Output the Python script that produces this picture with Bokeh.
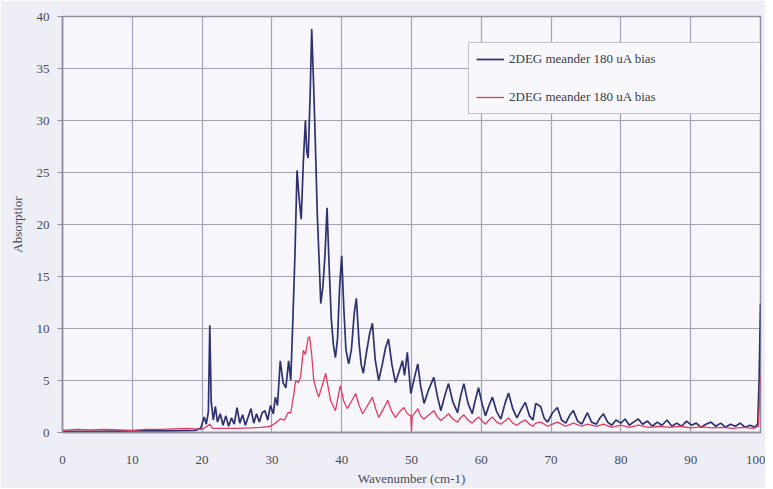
from bokeh.plotting import figure
from bokeh.models import FixedTicker, Range1d, Legend, LegendItem
from bokeh.embed import file_html
from bokeh.resources import INLINE

# Blue series: 2DEG meander 180 uA bias (upper trace)
blue_x = [0, 5, 10, 15, 19, 19.8, 20.3, 20.6, 20.9, 21.1, 21.3, 21.6, 21.9, 22.2, 22.6, 23.0,
          23.4, 23.8, 24.2, 24.6, 25.0, 25.4, 25.8, 26.2, 26.6, 27.0, 27.4, 27.8, 28.2, 28.6,
          29.0, 29.4, 29.8, 30.2, 30.5, 30.8, 31.2, 31.6, 32.0, 32.4, 32.7, 33.0, 33.3, 33.6,
          33.9, 34.2, 34.5, 34.8, 35.0, 35.2, 35.5, 35.7, 35.9, 36.1, 36.3, 36.5, 36.8, 37.0,
          37.3, 37.6, 37.9, 38.2, 38.5, 38.8, 39.1, 39.4, 39.7, 40.0, 40.3, 40.6, 41.0, 41.4,
          41.8, 42.1, 42.5, 42.8, 43.1, 43.5, 44.0, 44.4, 44.8, 45.3, 45.8, 46.3, 46.7, 47.2,
          47.7, 48.2, 48.7, 49.0, 49.4, 49.9, 50.4, 50.9, 51.3, 51.8, 52.5, 53.2, 53.7, 54.2,
          54.8, 55.3, 55.9, 56.6, 57.0, 57.5, 58.1, 58.7, 59.1, 59.6, 60.1, 60.6, 61.1, 61.6,
          62.2, 62.8, 63.4, 63.9, 64.5, 65.1, 65.7, 66.3, 66.9, 67.4, 67.8, 68.5, 69.0, 69.5,
          70.2, 70.9, 71.5, 72.1, 72.7, 73.2, 73.8, 74.4, 75.2, 75.8, 76.5, 77.0, 77.5, 78.1,
          78.7, 79.3, 80.0, 80.6, 81.2, 81.8, 82.5, 83.1, 83.8, 84.5, 85.2, 85.9, 86.6, 87.3,
          88.0, 88.7, 89.4, 90.1, 90.8, 91.5, 92.2, 92.9, 93.6, 94.3, 95.0, 95.7, 96.4, 97.1,
          97.8, 98.5, 99.2, 99.6, 99.8, 100]
blue_y = [0.1, 0.1, 0.15, 0.15, 0.2, 0.4, 1.5, 0.8, 2.0, 10.3, 3.0, 1.2, 2.5, 1.0, 1.8, 0.7,
          1.6, 0.6, 1.4, 0.8, 2.4, 0.9, 1.7, 0.7, 1.5, 2.3, 0.9, 1.8, 1.0, 1.9,
          2.1, 1.2, 2.6, 1.8, 3.4, 2.6, 6.9, 4.8, 4.3, 6.9, 5.0, 10.8, 17.0, 25.2,
          22.5, 20.5, 26.0, 30.0, 27.0, 26.4, 33.0, 38.8, 35.0, 30.7, 26.0, 21.0, 16.0, 12.4,
          14.0, 17.0, 21.6, 16.0, 11.0, 8.5, 7.2, 9.0, 14.0, 17.0, 12.0, 8.0, 6.6, 8.0,
          11.5, 12.9, 8.5, 6.5, 5.7, 7.5, 9.5, 10.5, 7.0, 5.0, 6.5, 8.2, 9.0, 6.5,
          4.8, 5.8, 6.9, 5.5, 7.7, 3.75, 5.2, 6.6, 4.5, 2.8, 4.2, 5.3, 3.5, 2.1,
          3.6, 4.7, 3.0, 1.9, 3.4, 4.7, 2.8, 1.8, 3.0, 4.3, 2.8, 1.6, 2.6, 3.4,
          2.0, 1.3, 2.8, 3.8, 2.3, 1.4, 2.2, 2.9, 1.6, 1.2, 2.8, 2.5, 1.4, 1.0,
          1.9, 2.4, 1.2, 0.9, 1.7, 2.1, 1.1, 0.8, 1.9, 1.0, 0.8, 1.4, 1.8, 1.0,
          0.7, 1.2, 0.9, 1.3, 0.7, 1.0, 1.3, 0.8, 1.1, 0.6, 1.0, 0.7, 1.2, 0.6,
          0.9, 0.6, 1.1, 0.7, 0.9, 0.5, 0.8, 1.0, 0.6, 0.9, 0.5, 0.8, 0.6, 0.9,
          0.5, 0.7, 0.5, 0.8, 5.0, 12.4]

# Red series: 2DEG meander 180 uA bias (lower trace)
red_x = [0, 2, 4, 6, 8, 10, 12, 14, 16, 18, 20, 20.5, 21.1, 21.5, 23, 25, 27, 28.5, 29.8,
         30.5, 31.2, 31.8, 32.3, 32.7, 33.1, 33.4, 33.8, 34.1, 34.5, 34.8, 35.2, 35.4, 35.7,
         36.0, 36.4, 36.7, 37.2, 37.7, 38.1, 38.4, 39.1, 39.8, 40.3, 40.8, 41.4, 42.0, 42.5,
         43.0, 43.7, 44.4, 44.9, 45.3, 46.0, 46.6, 47.1, 47.7, 48.3, 48.9, 49.4, 49.9, 50.0,
         50.1, 50.5, 50.9, 51.3, 51.8, 52.5, 53.2, 53.7, 54.2, 54.8, 55.3, 55.9, 56.6, 57.0,
         57.5, 58.1, 58.7, 59.1, 59.6, 60.1, 60.6, 61.1, 61.6, 62.2, 62.8, 63.4, 63.9, 64.5,
         65.1, 65.7, 66.3, 66.9, 67.4, 67.8, 68.5, 69.5, 70.2, 70.9, 72.1, 73.2, 74.4, 75.2,
         76.5, 77.5, 78.7, 80.0, 81.2, 82.5, 84.0, 85.5, 87.0, 88.5, 90.0, 91.5, 93.0, 94.5,
         96.0, 97.5, 99.0, 99.7, 99.85, 100]
red_y = [0.2, 0.3, 0.25, 0.3, 0.25, 0.2, 0.3, 0.3, 0.35, 0.4, 0.3, 0.5, 0.8, 0.4, 0.4, 0.4, 0.45, 0.5, 0.6,
         0.9, 1.3, 1.2, 1.9, 1.9, 3.5, 5.0, 4.8, 5.3, 7.9, 7.5, 9.1, 9.2, 7.5,
         5.0, 4.0, 3.4, 4.5, 5.7, 4.2, 3.1, 2.1, 4.5, 3.0, 2.3, 3.0, 3.75, 2.6,
         1.8, 2.6, 3.4, 2.2, 1.45, 2.3, 3.1, 2.1, 1.45, 2.0, 2.4, 1.8, 1.6, 0.1,
         1.6, 1.9, 2.3, 1.6, 1.3, 1.7, 2.1, 1.5, 1.15, 1.5, 1.8, 1.3, 1.0, 1.4,
         1.7, 1.2, 0.9, 1.2, 1.5, 1.1, 0.8, 1.2, 1.5, 1.0, 0.8, 1.1, 1.4, 0.9,
         0.7, 1.0, 1.2, 0.8, 0.6, 0.9, 1.0, 0.6, 0.8, 1.0, 0.6, 0.9, 0.6, 0.8,
         0.6, 0.8, 0.5, 0.7, 0.5, 0.7, 0.5, 0.6, 0.5, 0.6, 0.45, 0.55, 0.45, 0.5,
         0.4, 0.5, 0.4, 0.6, 3.0, 5.5]

x_ticks = [0, 10, 20, 30, 40, 50, 60, 70, 80, 90, 100]
y_ticks = [0, 5, 10, 15, 20, 25, 30, 35, 40]
series_label = "2DEG meander 180 uA bias"

FONT = "Liberation Serif"
GRID = "#a4a4b4"
TEXT = "#4a4a55"

p = figure(width=765, height=488, output_backend="svg", toolbar_location=None,
           x_range=Range1d(0, 100), y_range=Range1d(0, 40),
           min_border_left=62, min_border_right=5, min_border_top=16, min_border_bottom=56,
           background_fill_color="#f6f6fb", border_fill_color="#eeeef6")

p.outline_line_color = "#8e8e9e"
p.outline_line_width = 1.5

r_blue = p.line(blue_x, blue_y, line_color="#2e3070", line_width=1.7)
r_red = p.line(red_x, red_y, line_color="#e23b5f", line_width=1.3)

p.xaxis.ticker = FixedTicker(ticks=x_ticks)
p.yaxis.ticker = FixedTicker(ticks=y_ticks)
p.xgrid.ticker = FixedTicker(ticks=x_ticks)
p.ygrid.ticker = FixedTicker(ticks=y_ticks)
p.xgrid.grid_line_color = GRID
p.ygrid.grid_line_color = GRID
p.xgrid.grid_line_width = 1.2
p.ygrid.grid_line_width = 1.2

for ax in (p.xaxis[0], p.yaxis[0]):
    ax.axis_line_color = "#8e8e9e"
    ax.axis_line_width = 1.5
    ax.major_label_text_font = FONT
    ax.major_label_text_font_size = "13px"
    ax.major_label_text_color = TEXT
    ax.axis_label_text_font = FONT
    ax.axis_label_text_font_size = "13px"
    ax.axis_label_text_font_style = "normal"
    ax.axis_label_text_color = TEXT
    ax.minor_tick_line_color = None

p.xaxis.major_tick_line_color = None
p.xaxis.major_label_standoff = 17
p.xaxis.axis_label = "Wavenumber (cm-1)"
p.xaxis.axis_label_standoff = 4

p.yaxis.major_tick_line_color = "#8e8e9e"
p.yaxis.major_tick_out = 5
p.yaxis.major_tick_in = 0
p.yaxis.major_label_standoff = 8
p.yaxis.axis_label = "Absorptior"
p.yaxis.axis_label_standoff = 9

legend = Legend(items=[LegendItem(label=series_label, renderers=[r_blue]),
                       LegendItem(label=series_label, renderers=[r_red])],
                location=(406, 318), padding=7, spacing=20,
                glyph_width=28, glyph_height=18, label_height=18, label_width=250,
                label_standoff=5, label_text_font=FONT, label_text_font_size="13px",
                label_text_color="#3a3a45", background_fill_color="#f8f8fc",
                background_fill_alpha=1.0, border_line_color="#8e8e9e",
                border_line_width=1.2, margin=0)
p.add_layout(legend, "center")

open("out.html", "w").write(file_html(p, INLINE))
